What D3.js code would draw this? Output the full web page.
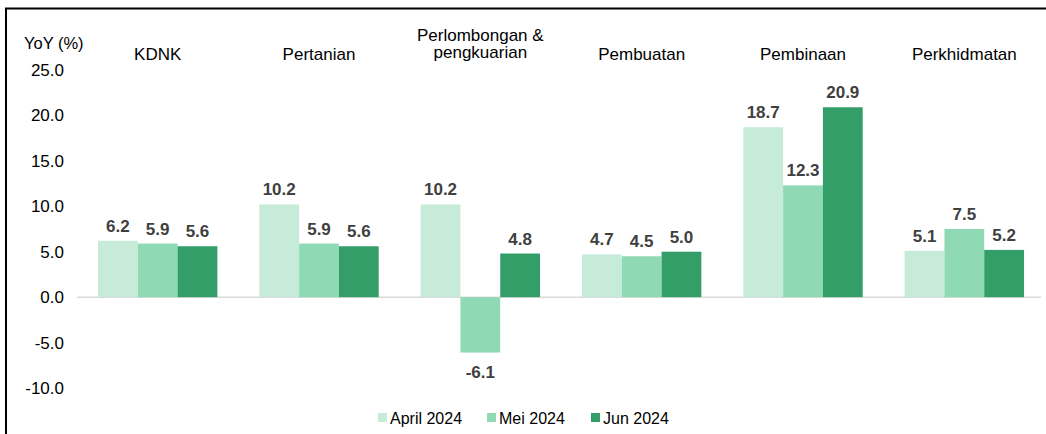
<!DOCTYPE html>
<html>
<head>
<meta charset="utf-8">
<script src="https://cdn.jsdelivr.net/npm/d3@7"></script>
<style>
  html, body { margin:0; padding:0; background:#fff; }
  svg text { font-family: "Liberation Sans", Arial, sans-serif; }
</style>
</head>
<body>
<div id="chart"></div>
<script>
// Data
const categories = ['KDNK', 'Pertanian', 'Perlombongan &\npengkuarian', 'Pembuatan', 'Pembinaan', 'Perkhidmatan'];
const seriesNames = ['April 2024', 'Mei 2024', 'Jun 2024'];
const april = [6.2, 10.2, 10.2, 4.7, 18.7, 5.1];
const mei   = [5.9, 5.9, -6.1, 4.5, 12.3, 7.5];
const jun   = [5.6, 5.6, 4.8, 5.0, 20.9, 5.2];
const yTicks = [25, 20, 15, 10, 5, 0, -5, -10];
const colors = ['#c6ebd8', '#8fdab4', '#349e69'];

const fmt = v => d3.format('.1f')(v).replace('\u2212', '-');

const W = 1046, H = 434;
const svg = d3.select('#chart').append('svg')
  .attr('width', W).attr('height', H);

// Rahmen (links + oben)
svg.append('path')
  .attr('d', `M6,${H} V8.5 H${W}`)
  .attr('fill', 'none').attr('stroke', '#000').attr('stroke-width', 2);

const x0 = d3.scaleBand().domain(d3.range(categories.length)).range([77, 1045]).paddingInner(0.26).paddingOuter(0.13);
const x1 = d3.scaleBand().domain(d3.range(3)).range([0, x0.bandwidth()]);
const y = d3.scaleLinear().domain([-10, 25]).range([388, 70]);

// y tick labels
svg.append('g').selectAll('text')
  .data(yTicks).enter().append('text')
  .attr('x', 64).attr('y', d => y(d))
  .attr('dy', '0.35em')
  .attr('text-anchor', 'end')
  .attr('font-size', 17).attr('fill', '#000')
  .text(fmt);

svg.append('text')
  .attr('x', 24).attr('y', 49)
  .attr('font-size', 16.5).attr('fill', '#000')
  .text('YoY (%)');

// zero line
svg.append('line')
  .attr('x1', 77).attr('x2', 1041)
  .attr('y1', y(0)).attr('y2', y(0))
  .attr('stroke', '#d9d9d9').attr('stroke-width', 1.5);

const series = [april, mei, jun];
const bars = [];
series.forEach((vals, s) => vals.forEach((v, i) => bars.push({ i, s, v })));

svg.append('g').selectAll('rect')
  .data(bars).enter().append('rect')
  .attr('x', d => x0(d.i) + x1(d.s))
  .attr('width', x1.bandwidth())
  .attr('y', d => y(Math.max(0, d.v)))
  .attr('height', d => Math.abs(y(d.v) - y(0)))
  .attr('fill', d => colors[d.s]);

// value labels
svg.append('g').selectAll('text')
  .data(bars).enter().append('text')
  .attr('x', d => x0(d.i) + x1(d.s) + x1.bandwidth() / 2)
  .attr('y', d => d.v >= 0 ? y(d.v) - 9 : y(d.v) + 25)
  .attr('text-anchor', 'middle')
  .attr('font-size', 17).attr('font-weight', 'bold').attr('fill', '#404040')
  .text(d => fmt(d.v));

// category labels
const catG = svg.append('g');
categories.forEach((c, i) => {
  const lines = c.split('\n');
  const cx = x0(i) + x0.bandwidth() / 2;
  const t = catG.append('text')
    .attr('x', cx)
    .attr('text-anchor', 'middle')
    .attr('font-size', 17).attr('fill', '#000');
  const baseY = lines.length > 1 ? 41 : 60;
  lines.forEach((l, k) => {
    t.append('tspan').attr('x', cx).attr('y', baseY + k * 17).text(l);
  });
});

// legend
const legendX = [378, 487, 591];
const lg = svg.append('g');
seriesNames.forEach((n, s) => {
  lg.append('rect')
    .attr('x', legendX[s]).attr('y', 413)
    .attr('width', 9).attr('height', 9)
    .attr('fill', colors[s]);
  lg.append('text')
    .attr('x', legendX[s] + 12).attr('y', 418)
    .attr('dy', '0.35em')
    .attr('font-size', 16).attr('fill', '#000')
    .text(n);
});
</script>
</body>
</html>
